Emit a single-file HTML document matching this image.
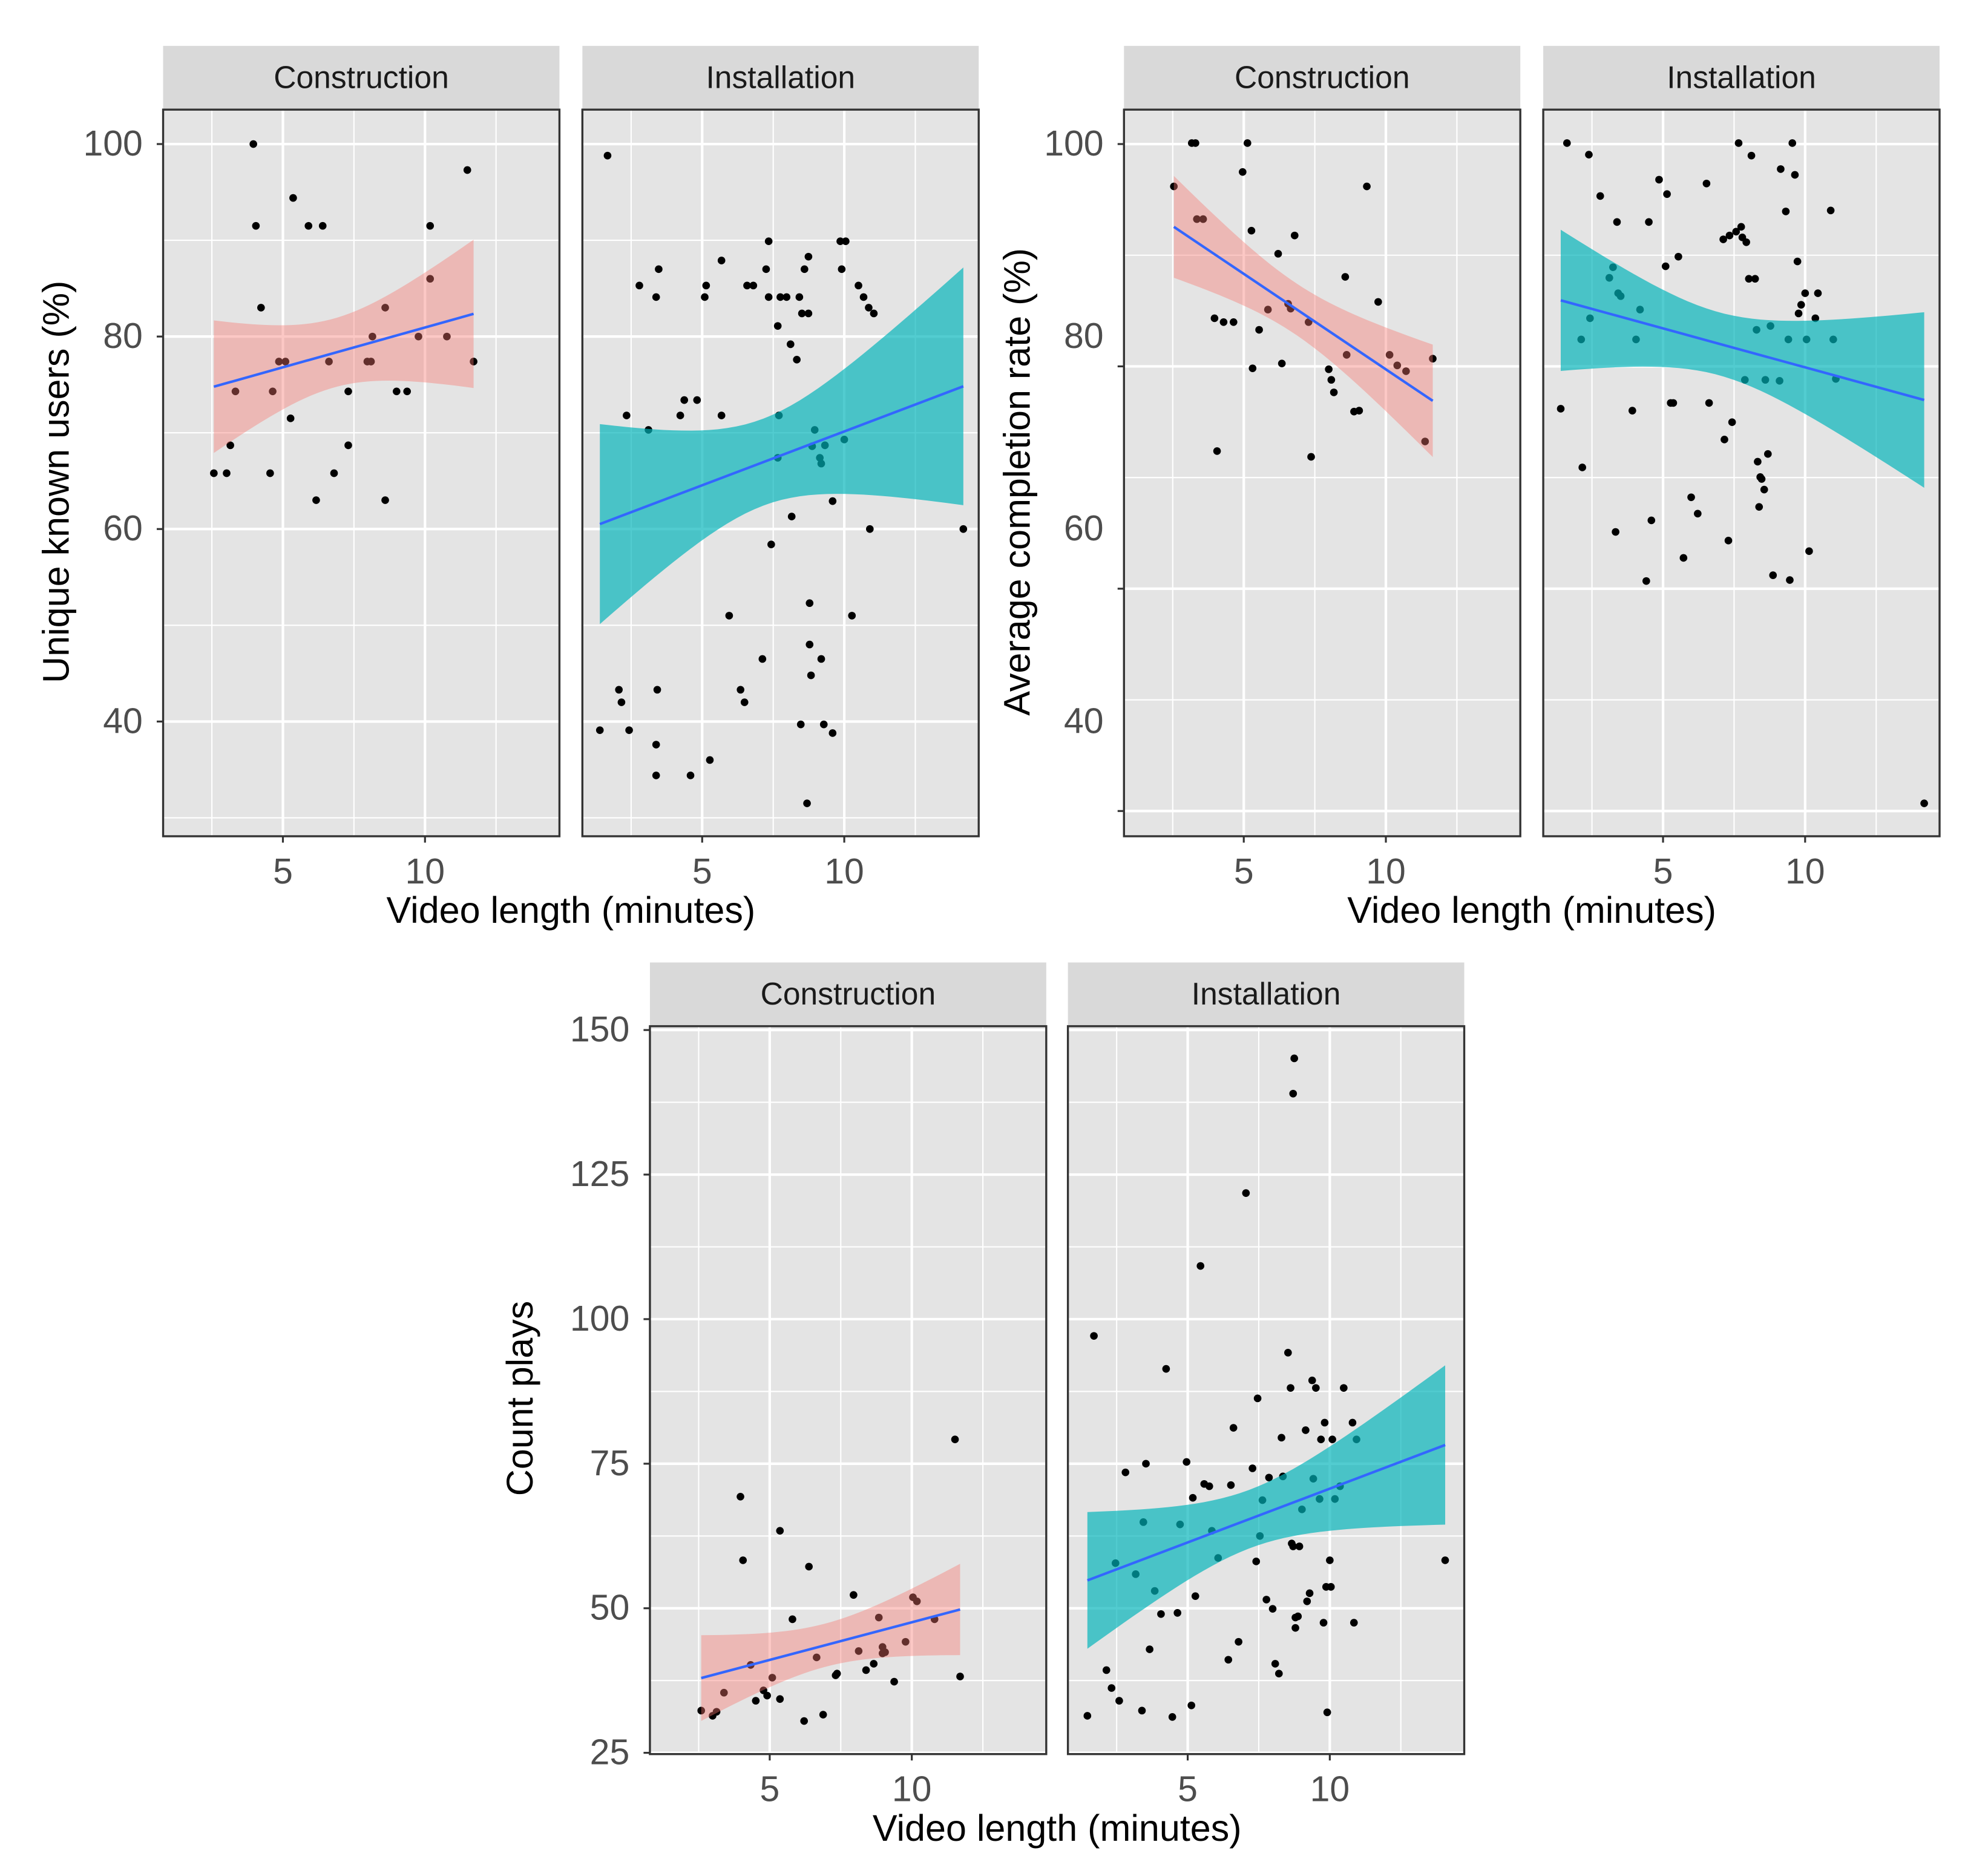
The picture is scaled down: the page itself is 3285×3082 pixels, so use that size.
<!DOCTYPE html>
<html><head><meta charset="utf-8"><style>
html,body{margin:0;padding:0;background:#fff;}
svg{display:block;font-family:"Liberation Sans",Arial,sans-serif;}
</style></head><body>
<svg id="fig" width="3285" height="3082" viewBox="0 0 1560 1463" preserveAspectRatio="none" xmlns="http://www.w3.org/2000/svg"></svg>
<script>
// ---------- DATA ----------
const facets = ["Construction", "Installation"];
const xTicks = [5, 10];
const usersTicks = [40, 60, 80, 100];
const completionTicks = [40, 60, 80, 100];
const countTicks = [25, 50, 75, 100, 125, 150];

const usersConX = [2.57,3.02,3.15,3.33,3.96,4.05,4.23,4.55,4.64,4.86,5.09,5.27,5.36,5.9,6.4,6.17,6.62,6.8,7.3,7.3,7.97,8.1,8.15,8.6,9.0,9.37,8.6,9.77,10.18,10.18,10.77,11.49,11.71];
const usersConY = [65.8,65.8,68.7,74.3,100,91.5,83,65.8,74.3,77.4,77.4,71.5,94.4,91.5,91.5,63,77.4,65.8,68.7,74.3,77.4,77.4,80,83,74.3,74.3,63,80,91.5,86,80,97.3,77.4];

const usersInsX = [1.67,1.40,2.07,2.16,2.43,2.34,2.79,3.11,3.38,3.47,3.38,3.42,3.38,4.23,4.37,4.59,4.82,5.09,5.14,5.27,5.68,5.68,5.95,6.35,6.49,6.58,6.80,7.12,7.25,7.34,7.34,7.43,7.66,7.70,7.66,7.75,7.97,8.15,8.11,8.33,8.42,8.47,8.51,8.60,8.74,8.74,8.78,8.78,8.87,8.83,8.96,9.14,9.19,9.19,9.28,9.32,9.59,9.59,9.86,10.05,9.91,10.0,10.27,10.5,10.68,10.86,11.04,10.9,14.19,8.69];
const usersInsY = [98.8,39.1,43.3,42.0,39.1,71.8,85.3,70.3,37.6,87.0,84.1,43.3,34.4,71.8,73.4,34.4,73.4,84.1,85.3,36.0,87.9,71.8,51.0,43.3,42.0,85.3,85.3,46.5,87.0,84.1,89.9,58.4,81.1,71.8,67.4,84.1,84.1,61.3,79.2,77.6,84.1,39.7,82.4,87.0,88.3,82.4,48.0,52.3,68.6,44.8,70.3,67.4,66.8,46.5,39.7,68.7,38.8,62.9,89.9,89.9,87.0,69.3,51.0,85.3,84.1,83.0,82.4,60.0,60.0,31.5];

const compConX = [2.54,3.17,3.30,3.35,3.57,3.97,4.06,4.29,4.64,4.96,5.13,5.27,5.31,5.54,5.85,6.21,6.34,6.56,6.79,7.28,7.37,7.99,8.08,8.17,8.57,8.62,8.88,9.06,9.33,9.73,10.13,10.4,10.71,11.38,11.65,6.65];
const compConY = [95.6,100.1,100.1,92.2,92.2,81.9,68.1,81.5,81.5,97.1,100.1,91.0,76.7,80.7,82.8,88.6,77.2,83.4,90.5,81.5,67.5,76.6,75.5,74.2,86.2,78.1,72.2,72.3,95.6,83.6,78.1,77.0,76.4,69.1,77.7,82.9];

const compInsX = [1.40,1.62,2.16,2.12,2.39,2.43,2.79,3.11,3.24,3.33,3.38,3.42,3.51,3.92,4.05,4.19,4.41,4.50,4.59,4.86,5.09,5.14,5.27,5.36,5.54,5.72,5.99,6.22,6.53,6.62,7.12,7.16,7.30,7.34,7.43,7.57,7.66,7.75,7.79,7.88,7.93,8.02,8.11,8.24,8.29,8.33,8.38,8.42,8.47,8.56,8.60,8.69,8.78,8.87,9.10,9.14,9.32,9.41,9.46,9.55,9.64,9.73,9.77,9.86,10.0,10.05,10.14,10.36,10.45,10.9,10.99,11.08,14.19];
const compInsY = [72.5,100.1,66.4,79.7,98.9,81.9,94.6,86.1,87.2,59.7,91.9,84.5,84.2,72.3,79.7,82.8,54.6,91.9,60.9,96.3,87.3,94.8,73.1,73.1,88.3,57.0,63.3,61.6,95.9,73.1,90.1,69.3,58.8,90.5,71.1,90.9,100.1,91.4,90.3,75.5,89.8,86.0,98.8,86.0,80.7,67.0,62.3,65.4,65.2,64.1,75.5,67.8,81.1,55.2,75.4,97.4,93.0,79.7,54.7,100.1,96.8,87.8,82.4,83.3,84.5,79.7,57.7,81.9,84.5,93.1,79.7,75.6,31.5];

const countConX = [2.59,2.99,3.13,3.39,3.97,4.06,4.33,4.51,4.78,4.91,5.09,5.36,5.36,5.80,6.21,6.38,6.65,6.88,7.32,7.37,7.95,8.13,8.39,8.66,8.84,8.97,8.97,9.06,9.38,9.78,10.04,10.18,10.8,11.52,11.7];
const countConY = [32.3,31.4,32.1,35.4,69.3,58.3,40.2,34.0,35.8,34.9,38.0,63.4,34.3,48.1,30.5,57.2,41.5,31.6,38.4,38.7,52.3,42.6,39.3,40.4,48.4,42.2,43.3,42.4,37.3,44.2,51.9,51.2,48.1,79.2,38.2];

const countInsX = [1.47,1.70,2.14,2.32,2.46,2.59,2.81,3.17,3.39,3.44,3.53,3.66,3.84,4.06,4.24,4.46,4.64,4.73,4.96,5.13,5.18,5.27,5.45,5.58,5.76,5.85,6.07,6.43,6.52,6.61,6.79,7.05,7.28,7.41,7.46,7.54,7.63,7.77,7.86,7.99,8.08,8.21,8.30,8.35,8.53,8.62,8.66,8.71,8.71,8.75,8.79,8.79,8.88,9.02,9.15,9.20,9.29,9.38,9.42,9.51,9.64,9.69,9.78,9.82,9.91,10.0,10.04,10.09,10.18,10.36,10.49,10.80,10.85,10.94,14.06,9.87,8.93];
const countInsY = [31.4,97.1,39.3,36.2,57.8,34.0,73.5,55.9,32.3,64.9,75.0,42.9,53.0,49.0,91.4,31.2,49.2,64.5,75.3,33.2,69.1,52.1,109.2,71.5,71.1,63.4,58.7,41.1,71.3,81.2,44.2,121.8,74.2,58.1,86.3,62.5,68.7,51.5,72.6,49.9,40.4,38.7,79.5,72.8,94.2,88.1,61.2,139.0,60.7,145.1,46.6,48.4,48.6,67.1,80.8,51.2,52.6,89.4,72.4,88.1,68.9,79.2,47.5,82.1,32.0,58.3,53.7,79.2,68.9,71.1,88.1,82.1,47.5,79.2,58.3,53.7,60.7];

// ---------- DRAWING ----------
const svg = document.getElementById('fig');
const NS = 'http://www.w3.org/2000/svg';
function mk(tag, attrs, parent) {
  const e = document.createElementNS(NS, tag);
  for (const k in attrs) e.setAttribute(k, attrs[k]);
  (parent || svg).appendChild(e);
  return e;
}
const PW = 311, XOFF = 94, XS = 22.3;
const FILLS = ["#F8766D", "#00B4BA"];
const FOPS = [0.4, 0.68];

function fitLine(xs, ys) {
  const n = xs.length;
  const mx = xs.reduce((a,b)=>a+b,0)/n, my = ys.reduce((a,b)=>a+b,0)/n;
  let sxx=0, sxy=0;
  for (let i=0;i<n;i++){ sxx+=(xs[i]-mx)**2; sxy+=(xs[i]-mx)*(ys[i]-my); }
  const b = sxy/sxx, a = my - b*mx;
  let sse=0; for (let i=0;i<n;i++) sse+=(ys[i]-a-b*xs[i])**2;
  const s = Math.sqrt(sse/(n-2));
  const t = 1.96 + 2.4/(n-2);
  return {a,b,mx,sxx,n,s,t,xmin:Math.min(...xs),xmax:Math.max(...xs)};
}

function drawPlot(cfg) {
  const g = mk('g', {});
  
  
  const top = cfg.top, bot = cfg.top + cfg.h;
  cfg.lefts.forEach((L, fi) => {
    const X = x => L + XOFF + (x - 5) * XS;
    const pg = mk('g', {}, g);
    
    
    const st = mk('rect', {x:L, y:top-50, width:PW, height:50, fill:'#d9d9d9'}, pg);
    
    
    const stt = mk('text', {x:L+PW/2, y:top-17, 'text-anchor':'middle', 'font-size':24.5, fill:'#1a1a1a'}, pg);
    stt.textContent = facets[fi];
    
    
    const bg = mk('rect', {x:L, y:top, width:PW, height:cfg.h, fill:'#e4e4e4'}, pg);
    
    
    cfg.minorY.forEach(v => { const y = cfg.G(v); if (y>top && y<bot) mk('line',{x1:L,x2:L+PW,y1:y,y2:y,stroke:'#fff','stroke-width':1},pg); });
    cfg.majorY.forEach(v => { const y = cfg.G(v); if (y>top && y<bot) mk('line',{x1:L,x2:L+PW,y1:y,y2:y,stroke:'#fff','stroke-width':2},pg); });
    [2.5, 7.5, 12.5].forEach(v => { const x = X(v); if (x>L && x<L+PW) mk('line',{x1:x,x2:x,y1:top,y2:bot,stroke:'#fff','stroke-width':1},pg); });
    xTicks.forEach(v => { const x = X(v); mk('line',{x1:x,x2:x,y1:top,y2:bot,stroke:'#fff','stroke-width':2},pg); });
    const xs = cfg.xs[fi], ys = cfg.ys[fi];
    for (let i=0;i<xs.length;i++) {
      const c = mk('circle', {cx:X(xs[i]), cy:cfg.Y(ys[i]), r:3, fill:'#000'}, pg);
      
      
    }
    const f = fitLine(xs, ys);
    const N = 40, up = [], lo = [];
    for (let k=0;k<=N;k++) {
      const x = f.xmin + (f.xmax-f.xmin)*k/N;
      const yh = f.a + f.b*x;
      const se = f.s*Math.sqrt(1/f.n + (x-f.mx)**2/f.sxx);
      up.push(X(x).toFixed(2)+','+cfg.Y(yh+f.t*se).toFixed(2));
      lo.unshift(X(x).toFixed(2)+','+cfg.Y(yh-f.t*se).toFixed(2));
    }
    const rb = mk('polygon', {points: up.concat(lo).join(' '), fill:FILLS[fi], 'fill-opacity':FOPS[fi]}, pg);
    
    
    const ln = mk('line', {x1:X(f.xmin), y1:cfg.Y(f.a+f.b*f.xmin), x2:X(f.xmax), y2:cfg.Y(f.a+f.b*f.xmax), stroke:'#3366FF', 'stroke-width':2}, pg);
    
    
    mk('rect', {x:L, y:top, width:PW, height:cfg.h, fill:'none', stroke:'#333', 'stroke-width':1.6}, pg);
    xTicks.forEach(v => {
      const x = X(v);
      mk('line', {x1:x,x2:x,y1:bot,y2:bot+5,stroke:'#333','stroke-width':1.5}, pg);
      const tl = mk('text', {x:x, y:bot+37, 'text-anchor':'middle', 'font-size':28, fill:'#4d4d4d'}, pg);
      tl.textContent = v;
      
      
    });
  });
  const L0 = cfg.lefts[0];
  cfg.majorY.forEach(v => { const y = cfg.G(v); mk('line',{x1:L0-5,x2:L0,y1:y,y2:y,stroke:'#333','stroke-width':1.5},g); });
  cfg.labels.forEach(v => {
    const t = mk('text', {x:L0-16, y:cfg.Y(v)+9, 'text-anchor':'end', 'font-size':28, fill:'#4d4d4d'}, g);
    t.textContent = v;
    
    
  });
  const yt = mk('text', {x:cfg.ytx, y:cfg.yty, 'text-anchor':'middle', 'font-size':29, fill:'#000', transform:`rotate(-90 ${cfg.ytx} ${cfg.yty})`}, g);
  yt.textContent = cfg.ytitle;
  
  
  const xt = mk('text', {x:(cfg.lefts[0]+cfg.lefts[1]+PW)/2, y:bot+68, 'text-anchor':'middle', 'font-size':29, fill:'#000'}, g);
  xt.textContent = 'Video length (minutes)';
  
  
}

const usersY = v => 113 + (100 - v) * 7.55;
drawPlot({name:'unique-users-plot', top:86, h:570, lefts:[128,457],
  xs:[usersConX, usersInsX], ys:[usersConY, usersInsY],
  Y:usersY, G:usersY, majorY:usersTicks, minorY:[30,50,70,90], labels:usersTicks,
  ytitle:'Unique known users (%)', ytx:54, yty:378});

const compY = v => 113 + (100 - v) * 7.55;
const compGrid = v => 113 + (100 - v) * 8.72;
drawPlot({name:'completion-rate-plot', top:86, h:570, lefts:[882,1211],
  xs:[compConX, compInsX], ys:[compConY, compInsY],
  Y:compY, G:compGrid, majorY:completionTicks, minorY:[50,70,90], labels:completionTicks,
  ytitle:'Average completion rate (%)', ytx:808, yty:378});

const countY = v => 808 + (150 - v) * 4.536;
drawPlot({name:'count-plays-plot', top:805, h:571, lefts:[510,838],
  xs:[countConX, countInsX], ys:[countConY, countInsY],
  Y:countY, G:countY, majorY:countTicks, minorY:[37.5,62.5,87.5,112.5,137.5], labels:countTicks,
  ytitle:'Count plays', ytx:418, yty:1097});
</script>
</body></html>
